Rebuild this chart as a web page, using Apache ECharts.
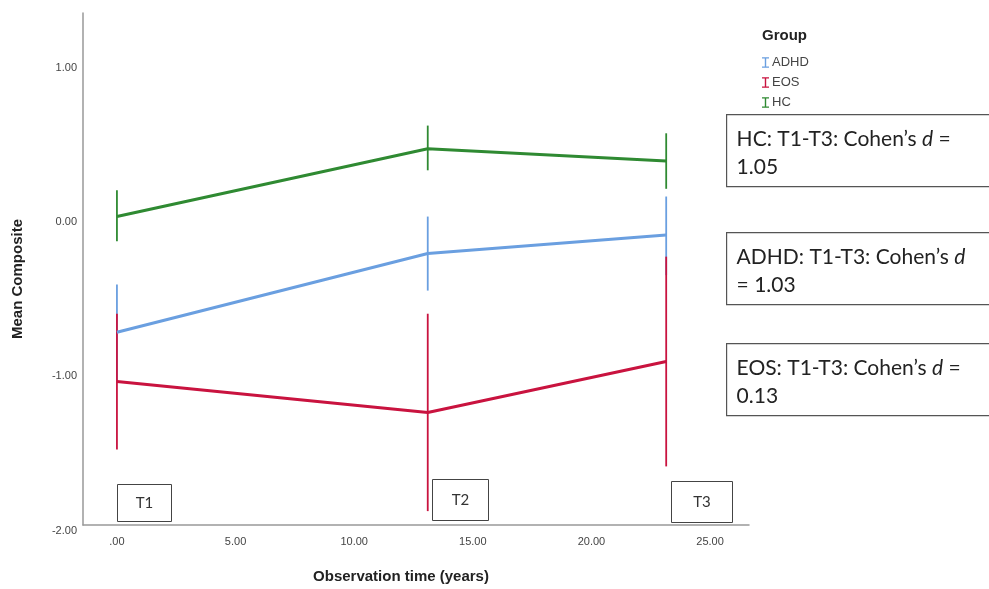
<!DOCTYPE html>
<html>
<head>
<meta charset="utf-8">
<script src="https://cdn.jsdelivr.net/npm/echarts@6/dist/echarts.min.js"></script>
<style>
  html, body { margin: 0; background: #fff; }
  #chart { width: 989px; height: 589px; }
</style>
</head>
<body>
<div id="chart"></div>
<script>
// observation times (years) for T1, T2, T3
const times = [0, 13.1, 23.15]
const xTicks = [0, 5, 10, 15, 20, 25]
const yTicks = [-2, -1, 0, 1]

const adhdMean = [-0.75, -0.24, -0.12]
const adhdLow = [-1.06, -0.48, -0.38]
const adhdHigh = [-0.44, 0.00, 0.13]

const eosMean = [-1.07, -1.27, -0.94]
const eosLow = [-1.51, -1.91, -1.62]
const eosHigh = [-0.63, -0.63, -0.26]

const hcMean = [0.00, 0.44, 0.36]
const hcLow = [-0.16, 0.30, 0.18]
const hcHigh = [0.17, 0.59, 0.54]

const effectNotes = [
  ['HC', '1.05'],
  ['ADHD', '1.03'],
  ['EOS', '0.13']
]
const timeLabels = ['T1', 'T2', 'T3']

const colors = { ADHD: '#6a9fe0', EOS: '#c9133f', HC: '#2f8a32' }
const font = 'Liberation Sans'
const noteFont = 'Lato'

function pairs(ys) {
  return times.map((t, i) => [t, ys[i]])
}

function errorBars(name, low, high) {
  return {
    name: name,
    type: 'custom',
    data: times.map((t, i) => [t, low[i], high[i]]),
    encode: { x: 0, y: [1, 2] },
    z: 3,
    itemStyle: { color: colors[name] },
    renderItem: function (params, api) {
      const a = api.coord([api.value(0), api.value(1)])
      const b = api.coord([api.value(0), api.value(2)])
      return {
        type: 'line',
        shape: { x1: a[0], y1: a[1], x2: b[0], y2: b[1] },
        style: { stroke: colors[name], lineWidth: 1.8 }
      }
    }
  }
}

function meanLine(name, ys) {
  return {
    name: name,
    type: 'line',
    data: pairs(ys),
    symbol: 'none',
    z: 4,
    lineStyle: { color: colors[name], width: 3 },
    itemStyle: { color: colors[name] }
  }
}

// boxes with the effect sizes
const noteTops = [114, 232, 343]
const notes = effectNotes.map((n, i) => ({
  type: 'group',
  left: 726,
  top: noteTops[i],
  children: [
    {
      type: 'rect',
      shape: { x: 0, y: 0, width: 270, height: 72 },
      style: { fill: '#fff', stroke: '#555', lineWidth: 1.2 }
    },
    {
      type: 'text',
      x: 10,
      y: 11,
      style: {
        text: n[0] === 'ADHD'
          ? 'ADHD: T1-T3: Cohen\u2019s {i|d}\n= ' + n[1]
          : n[0] + ': T1-T3: Cohen\u2019s {i|d} =\n' + n[1],
        fontFamily: noteFont,
        fontSize: 21,
        lineHeight: 28,
        fill: '#222',
        rich: { i: { fontStyle: 'italic', fontFamily: noteFont, fontSize: 21, fill: '#222' } }
      }
    }
  ]
}))

const tBoxes = [[117, 484, 54, 37], [432, 479, 56, 41], [671, 481, 61, 41]]
const tGraphics = tBoxes.map((b, i) => ({
  type: 'group',
  left: b[0],
  top: b[1],
  children: [
    {
      type: 'rect',
      shape: { x: 0, y: 0, width: b[2], height: b[3] },
      style: { fill: '#fff', stroke: '#444', lineWidth: 1 }
    },
    {
      type: 'text',
      x: b[2] / 2,
      y: b[3] / 2,
      style: {
        text: timeLabels[i],
        align: 'center',
        verticalAlign: 'middle',
        fontFamily: noteFont,
        fontSize: 15,
        fill: '#333'
      }
    }
  ]
}))

const chart = echarts.init(document.getElementById('chart'))
chart.setOption({
  animation: false,
  backgroundColor: '#fff',
  title: {
    text: 'Group',
    left: 757,
    top: 23,
    textStyle: { fontFamily: font, fontSize: 15, fontWeight: 'bold', color: '#222' }
  },
  legend: {
    orient: 'vertical',
    left: 757,
    top: 51,
    itemGap: 7,
    itemWidth: 7,
    itemHeight: 12,
    icon: 'path://M0,0H8V1.5H4.8V10.5H8V12H0V10.5H3.2V1.5H0Z',
    data: ['ADHD', 'EOS', 'HC'],
    textStyle: { fontFamily: font, fontSize: 13, color: '#444', padding: [0, 0, 0, -2] }
  },
  grid: { left: 83, right: 240, top: 13, bottom: 63 },
  xAxis: {
    type: 'value',
    min: -1.43,
    max: 26.64,
    name: 'Observation time (years)',
    nameLocation: 'middle',
    nameGap: 44,
    nameTextStyle: { fontFamily: font, fontSize: 15, fontWeight: 'bold', color: '#222', padding: [0, 30, 0, 0] },
    axisLine: { onZero: false, lineStyle: { color: '#999', width: 1.5 } },
    axisTick: { show: false },
    splitLine: { show: false },
    axisLabel: {
      customValues: xTicks,
      margin: 11,
      fontFamily: font,
      fontSize: 11,
      color: '#444',
      formatter: v => (v === 0 ? '.00' : v.toFixed(2))
    }
  },
  yAxis: {
    type: 'value',
    min: -2,
    max: 1.32,
    name: 'Mean Composite',
    nameLocation: 'middle',
    nameGap: 58,
    nameTextStyle: { fontFamily: font, fontSize: 15, fontWeight: 'bold', color: '#222', padding: [0, 20, 0, 0] },
    axisLine: { show: true, onZero: false, lineStyle: { color: '#999', width: 1.5 } },
    axisTick: { show: false },
    splitLine: { show: false },
    axisLabel: {
      customValues: yTicks,
      margin: 6,
      fontFamily: font,
      fontSize: 11,
      color: '#444',
      verticalAlign: 'top',
      formatter: v => v.toFixed(2)
    }
  },
  series: [
    errorBars('ADHD', adhdLow, adhdHigh),
    errorBars('HC', hcLow, hcHigh),
    errorBars('EOS', eosLow, eosHigh),
    meanLine('ADHD', adhdMean),
    meanLine('EOS', eosMean),
    meanLine('HC', hcMean)
  ],
  graphic: tGraphics.concat(notes)
})
</script>
</body>
</html>
